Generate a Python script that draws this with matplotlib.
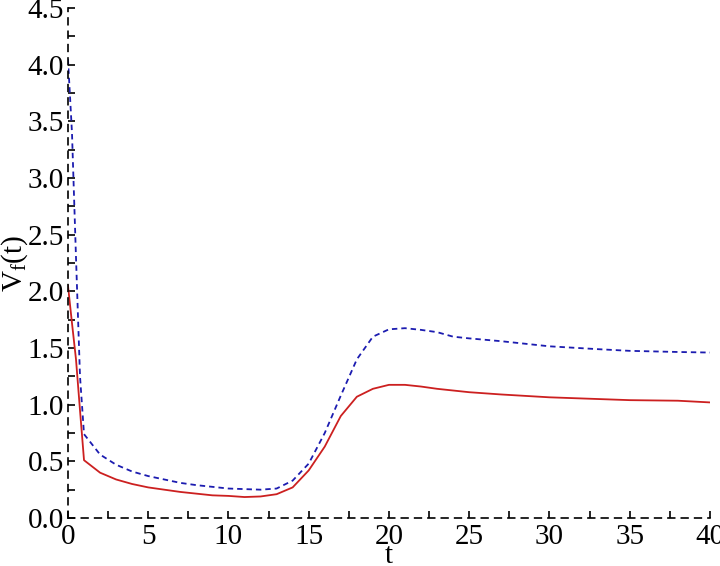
import matplotlib.pyplot as plt
from matplotlib.ticker import MultipleLocator

plt.rcParams['font.family'] = 'Liberation Serif'
plt.rcParams['mathtext.fontset'] = 'custom'
plt.rcParams['mathtext.rm'] = 'Liberation Serif'

# red solid curve
t_red = [0, 0.25, 0.5, 0.75, 1, 2, 3, 4, 5, 6, 7, 8, 9, 10, 11, 12, 13, 14, 15, 16,
         17, 18, 19, 20, 21, 22, 23, 24, 25, 27, 30, 33, 35, 38, 40]
v_red = [2.05, 1.72, 1.40, 0.95, 0.51, 0.40, 0.34, 0.30, 0.27, 0.25, 0.23, 0.215, 0.20,
         0.195, 0.185, 0.19, 0.21, 0.27, 0.42, 0.63, 0.90, 1.07, 1.14, 1.175, 1.175,
         1.16, 1.14, 1.125, 1.11, 1.09, 1.065, 1.05, 1.04, 1.035, 1.02]

# blue dashed curve
t_blue = [0, 0.25, 0.5, 0.75, 1, 2, 3, 4, 5, 6, 7, 8, 9, 10, 11, 12, 13, 14, 15, 16,
          17, 18, 19, 20, 21, 22, 23, 24, 25, 27, 30, 33, 35, 38, 40]
v_blue = [4.05, 3.40, 2.30, 1.25, 0.74, 0.56, 0.47, 0.41, 0.37, 0.34, 0.31, 0.29, 0.275,
          0.26, 0.255, 0.25, 0.26, 0.33, 0.48, 0.75, 1.08, 1.40, 1.60, 1.665, 1.675,
          1.66, 1.64, 1.60, 1.585, 1.56, 1.515, 1.49, 1.475, 1.465, 1.46]

fig = plt.figure(figsize=(7.2, 5.66), dpi=100)
ax = fig.add_axes([0.0944, 0.0848, 0.8916, 0.901])

ax.plot(t_blue, v_blue, color='#1c1cb0', lw=1.3, linestyle=(0, (3, 2.2)))
ax.plot(t_red, v_red, color='#cc2020', lw=1.3)

ax.set_xlim(0, 40)
ax.set_ylim(0, 4.5)
for s in ['top', 'right']:
    ax.spines[s].set_visible(False)
for s in ['left', 'bottom']:
    ax.spines[s].set_linestyle((0, (4, 4)))
    ax.spines[s].set_linewidth(1.2)

ax.xaxis.set_major_locator(MultipleLocator(5))
ax.xaxis.set_minor_locator(MultipleLocator(2.5))
ax.yaxis.set_major_locator(MultipleLocator(0.5))
ax.yaxis.set_minor_locator(MultipleLocator(0.25))
ax.yaxis.set_major_formatter(plt.FormatStrFormatter('%.1f'))
ax.tick_params(which='both', direction='in', length=5, width=1.2, labelsize=21)
ax.tick_params(axis='x', pad=4)
ax.tick_params(axis='y', pad=3)

ax.set_xlabel('t', fontsize=21, labelpad=-5)
ax.set_ylabel(r'$\mathregular{V_f(t)}$', fontsize=21, labelpad=-2)

fig.savefig('out.png', dpi=100)
